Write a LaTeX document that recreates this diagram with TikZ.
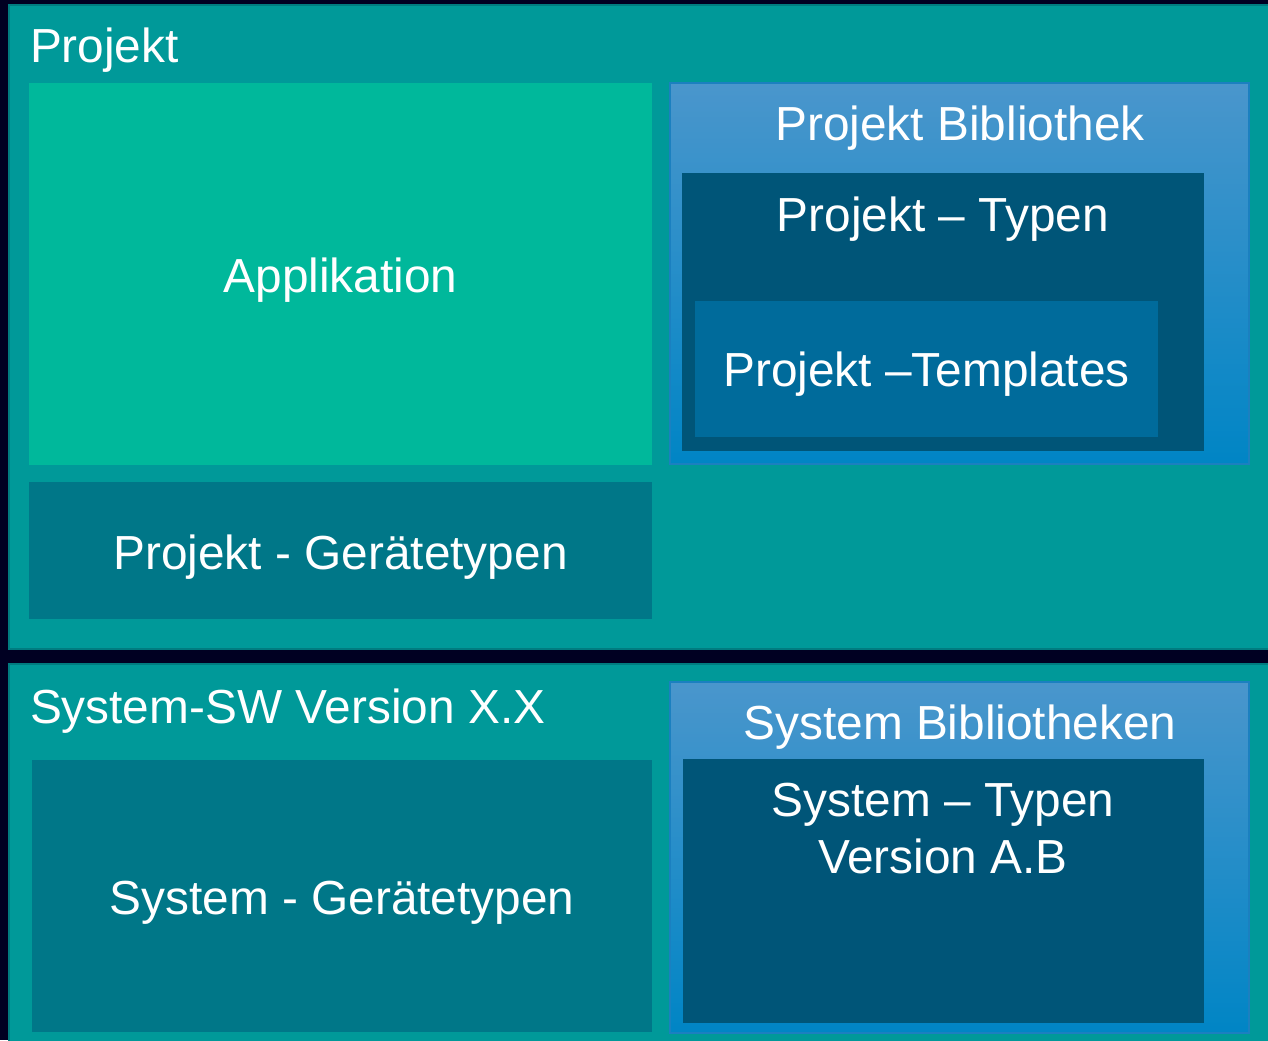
\documentclass[tikz,border=0pt]{standalone}
\usepackage{fontspec}
\setmainfont{Liberation Sans}
\usetikzlibrary{fit,positioning}
\definecolor{bgnavy}{HTML}{000022}
\definecolor{outerteal}{HTML}{009999}
\definecolor{outerrim}{HTML}{007C80}
\definecolor{appgreen}{HTML}{00B89B}
\definecolor{geraetcol}{HTML}{007788}
\definecolor{bibtop}{HTML}{4A96CC}
\definecolor{bibbottom}{HTML}{0085C5}
\definecolor{bibrim}{HTML}{1B80C0}
\definecolor{typencol}{HTML}{005578}
\definecolor{templcol}{HTML}{006B9B}
\begin{document}
\begin{tikzpicture}[x=0.5pt, y=-0.5pt, text=white,
  font=\fontsize{23.9}{28.5}\selectfont,
  every node/.style={inner sep=0pt, outer sep=0pt},
  area/.style={fill=#1, draw=none},
  frame/.style={fill=outerteal, draw=outerrim, line width=1pt},
  bibbox/.style={top color=bibtop, bottom color=bibbottom, draw=bibrim, line width=0.75pt}]
\fill[bgnavy] (0,0) rectangle (1268,1040);
\useasboundingbox (0,0) rectangle (1268,1040);
\clip (0,0) rectangle (1268,1040);
% Projekt
\node[frame, fit={(9,5) (1280,649)}] (projekt) {};
\node[anchor=base west] (projektlbl) at (30,62) {Projekt};
\node[area=appgreen, fit={(29,83) (652,465)}] (app) {};
\node (applbl) at ([yshift=-3.2pt]app.center) {Applikation};
\node[area=geraetcol, fit={(29,482) (652,619)}] (projgeraet) {};
\node (projgeraetlbl) at ([yshift=-3.2pt]projgeraet.center) {Projekt - Gerätetypen};
\node[bibbox, fit={(670,83) (1249,464)}] (projbib) {};
\node[anchor=base] (projbiblbl) at (960,140) {Projekt Bibliothek};
\node[area=typencol, fit={(682,173) (1204,451)}] (projtypen) {};
\node[anchor=base] (projtypenlbl) at (943,231) {Projekt -- Typen};
\node[area=templcol, fit={(695,301) (1158,437)}] (projtempl) {};
\node (projtempllbl) at ([yshift=-2.6pt]projtempl.center) {Projekt --Templates};
% System
\node[frame, fit={(9,664) (1280,1050)}] (system) {};
\node[anchor=base west] (systemlbl) at (30,723) {System-SW Version X.X};
\node[area=geraetcol, fit={(32,760) (652,1032)}] (sysgeraet) {};
\node (sysgeraetlbl) at ([yshift=-3.4pt]sysgeraet.center) {System - Gerätetypen};
\node[bibbox, fit={(670,682) (1249,1033)}] (sysbib) {};
\node[anchor=base] (sysbiblbl) at (960,739) {System Bibliotheken};
\node[area=typencol, fit={(683,759) (1204,1023)}] (systypen) {};
\node[align=center] (systypenlbl) at (943,829) {System -- Typen\\Version A.B};
\end{tikzpicture}
\end{document}
